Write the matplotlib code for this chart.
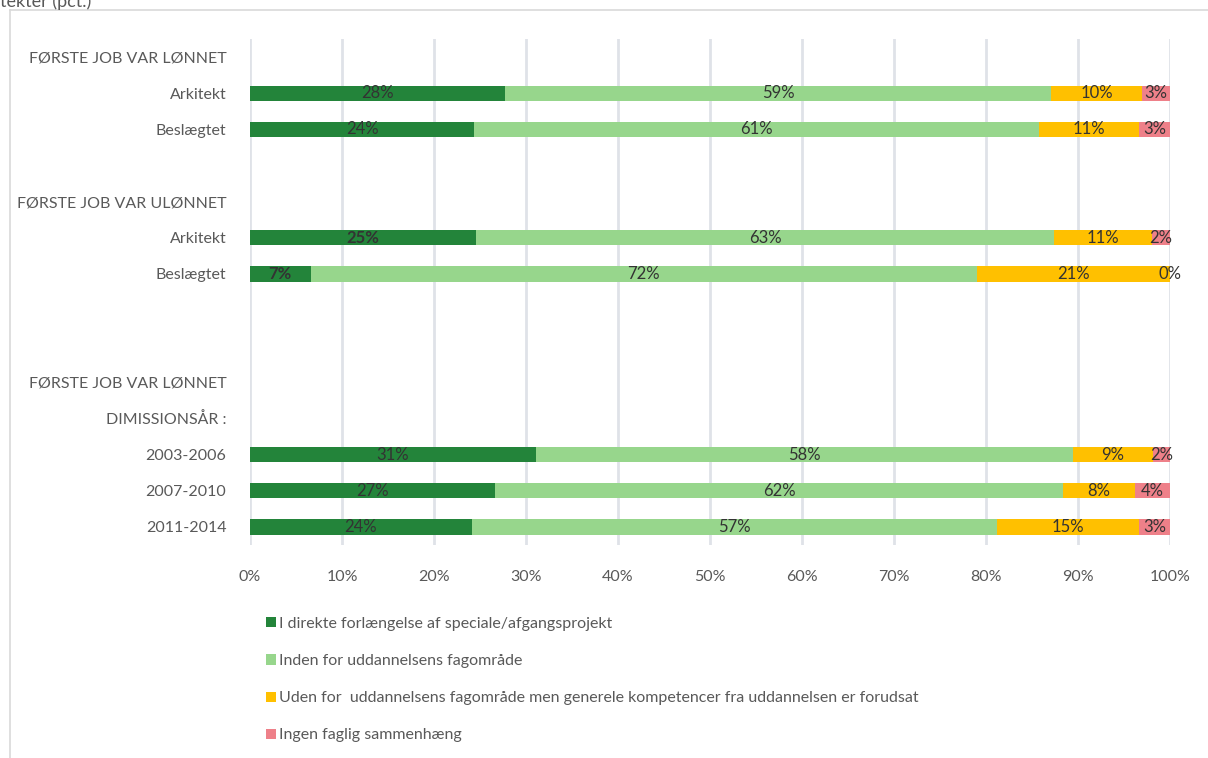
import numpy as np
import matplotlib.pyplot as plt
from matplotlib.lines import Line2D

plt.rcParams['font.family'] = ['Lato', 'DejaVu Sans']

row_labels = ["FØRSTE JOB VAR LØNNET", "Arkitekt", "Beslægtet", "",
              "FØRSTE JOB VAR ULØNNET", "Arkitekt", "Beslægtet", "", "",
              "FØRSTE JOB VAR LØNNET", "DIMISSIONSÅR :",
              "2003-2006", "2007-2010", "2011-2014"]

nan = np.nan
direkte = [nan, 27.7, 24.4, nan, nan, 24.6, 6.6, nan, nan, nan, nan, 31.1, 26.6, 24.1]
inden = [nan, 59.4, 61.4, nan, nan, 62.8, 72.4, nan, nan, nan, nan, 58.4, 61.8, 57.1]
uden = [nan, 9.9, 10.8, nan, nan, 10.6, 21.0, nan, nan, nan, nan, 8.6, 7.8, 15.4]
ingen = [nan, 3.0, 3.4, nan, nan, 2.0, 0.0, nan, nan, nan, nan, 1.9, 3.8, 3.4]

series_names = ["I direkte forlængelse af speciale/afgangsprojekt",
                "Inden for uddannelsens fagområde",
                "Uden for  uddannelsens fagområde men generele kompetencer fra uddannelsen er forudsat",
                "Ingen faglig sammenhæng"]
colors = ["#23843a", "#97d68c", "#ffc000", "#ee8089"]
bold_rows = [5, 6]  # ULØNNET dark green labels in bold

fig = plt.figure(figsize=(12.08, 7.58), dpi=100)
ax = fig.add_axes([250 / 1208, 1 - 545 / 758, 920 / 1208, 506 / 758])

y = np.arange(len(row_labels))
left = np.zeros(len(row_labels))
for i, (vals, name, c) in enumerate(zip([direkte, inden, uden, ingen], series_names, colors)):
    vals = np.array(vals)
    bars = ax.barh(y, vals, left=left, height=0.42, color=c, label=name)
    labels = ["" if np.isnan(v) else f"{round(v)}%" for v in vals]
    texts = ax.bar_label(bars, labels=labels, label_type="center",
                         fontsize=12, color="#333333")
    if i == 0:
        for r in bold_rows:
            texts[r].set_fontweight("bold")
    left = left + np.nan_to_num(vals)

ax.set_xlim(0, 100)
ax.set_ylim(len(row_labels) - 0.5, -0.5)
ax.set_xticks(np.arange(0, 101, 10))
ax.set_xticklabels([f"{t}%" for t in range(0, 101, 10)])
ax.set_yticks(y)
ax.set_yticklabels(row_labels)
ax.tick_params(axis="both", length=0, labelsize=11.5, labelcolor="#595959")
ax.tick_params(axis="y", pad=17)
ax.tick_params(axis="x", pad=18)
ax.grid(axis="x", color="#dfe2e8", linewidth=2)
ax.set_axisbelow(True)
for s in ax.spines.values():
    s.set_visible(False)

handles, labs = ax.get_legend_handles_labels()
leg = fig.legend(handles, labs, loc="upper left", bbox_to_anchor=(258 / 1208, 1 - 609 / 758),
                 frameon=False, fontsize=11.5, labelcolor="#595959", handlelength=0.6,
                 handleheight=0.6, handletextpad=0.2, labelspacing=1.45, borderpad=0)

# outer frame and cut-off title
fig.add_artist(Line2D([10 / 1208, 10 / 1208], [0, 1 - 10 / 758], color="#d9d9d9", lw=1.2))
fig.add_artist(Line2D([10 / 1208, 1], [1 - 10 / 758, 1 - 10 / 758], color="#d9d9d9", lw=1.2))
fig.text(0.0, 1 - 2 / 758, "tekter (pct.)", fontsize=13, color="#595959", va="center")

plt.savefig("out.png", dpi=100)
